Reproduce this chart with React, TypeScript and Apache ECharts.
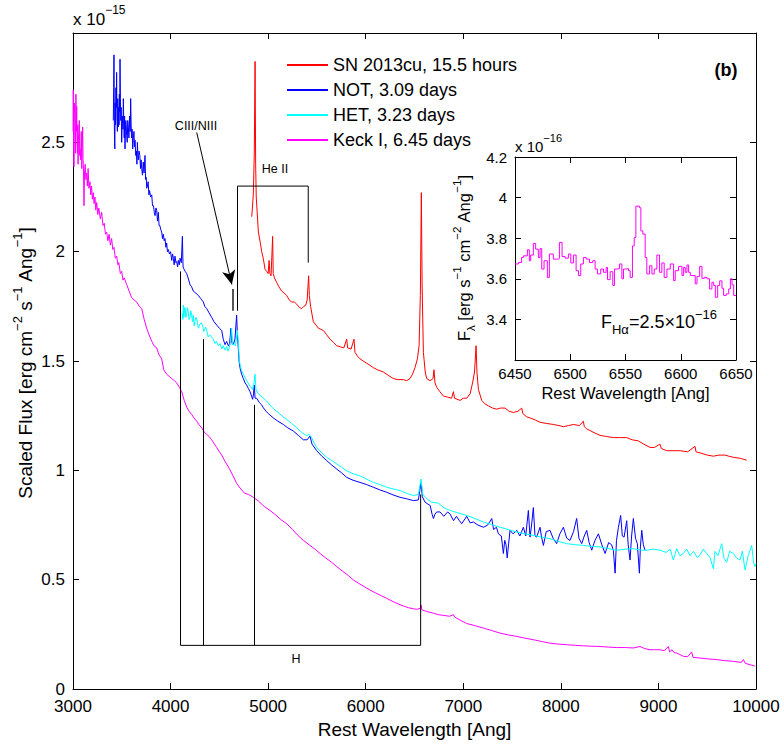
import React, { useEffect, useRef } from 'react';
import * as echarts from 'echarts';

// ---------- Main panel spectra (wavelength in Ang, flux in 1e-15 erg/s/cm2/Ang) ----------
const redWave = [4832,4848,4858,4866,4872,4878,4900,4920,4934,4950,4968,4985,5000,5010,5018,5030,5046,5052,5065,5087,5110,5139,5165,5190,5215,5242,5270,5293,5320,5344,5365,5385,5400,5415,5422,5435,5463,5490,5515,5540,5566,5600,5634,5670,5703,5740,5775,5805,5815,5850,5880,5890,5920,5942,5975,6010,6045,6078,6120,6181,6230,6283,6330,6386,6420,6454,6480,6505,6530,6547,6560,6570,6578,6591,6610,6625,6660,6690,6700,6710,6728,6760,6796,6840,6880,6899,6910,6967,7000,7035,7070,7095,7115,7131,7140,7155,7189,7220,7257,7300,7343,7380,7428,7470,7513,7560,7599,7610,7650,7684,7740,7787,7850,7923,7980,8026,8080,8128,8190,8231,8240,8265,8330,8402,8470,8538,8600,8675,8730,8794,8850,8914,8960,9016,9030,9085,9150,9222,9300,9375,9385,9427,9500,9563,9620,9683,9720,9768,9840,9905];
const redFlux = [2.16,2.26,2.45,2.87,2.40,2.25,2.09,2.04,2.00,1.97,1.92,1.91,1.90,1.96,1.90,1.89,2.07,1.90,1.88,1.86,1.84,1.82,1.81,1.80,1.78,1.77,1.77,1.76,1.745,1.74,1.75,1.755,1.78,1.89,1.80,1.75,1.68,1.665,1.65,1.645,1.64,1.62,1.60,1.585,1.57,1.565,1.56,1.60,1.56,1.555,1.60,1.54,1.52,1.51,1.50,1.49,1.48,1.47,1.46,1.45,1.435,1.42,1.415,1.415,1.41,1.42,1.44,1.47,1.51,1.57,1.80,2.27,1.85,1.54,1.45,1.42,1.41,1.42,1.46,1.40,1.38,1.36,1.34,1.335,1.33,1.36,1.33,1.32,1.33,1.33,1.35,1.40,1.45,1.57,1.45,1.37,1.32,1.305,1.295,1.285,1.28,1.285,1.285,1.27,1.265,1.27,1.285,1.26,1.245,1.24,1.23,1.22,1.215,1.21,1.205,1.20,1.205,1.21,1.205,1.225,1.20,1.19,1.175,1.16,1.155,1.15,1.15,1.15,1.14,1.135,1.12,1.105,1.105,1.12,1.10,1.09,1.09,1.09,1.085,1.11,1.085,1.08,1.07,1.065,1.07,1.07,1.065,1.06,1.055,1.047];

const blueWave = [3413,3417,3420,3423,3426,3429,3432,3436,3440,3444,3447,3451,3455,3459,3462,3465,3469,3472,3475,3479,3482,3486,3490,3494,3499,3503,3508,3512,3516,3520,3525,3529,3533,3537,3541,3545,3550,3556,3561,3567,3573,3580,3586,3591,3596,3600,3606,3612,3618,3625,3630,3636,3643,3650,3655,3660,3665,3670,3677,3685,3692,3698,3704,3712,3720,3728,3738,3744,3750,3756,3762,3770,3778,3785,3795,3807,3815,3825,3833,3841,3850,3858,3866,3875,3882,3890,3900,3909,3917,3925,3935,3943,3952,3960,3968,3977,3988,4000,4012,4020,4029,4037,4045,4055,4063,4072,4080,4090,4097,4110,4121,4128,4138,4150,4165,4180,4199,4215,4233,4260,4285,4310,4336,4350,4370,4395,4421,4445,4472,4500,4524,4540,4558,4575,4592,4605,4619,4630,4643,4660,4677,4685,4694,4702,4711,4728,4746,4763,4780,4797,4814,4830,4841,4850,4858,4866,4882,4910,4933,4951,4980,5001,5053,5100,5156,5200,5258,5310,5361,5400,5429,5450,5498,5550,5600,5650,5703,5750,5805,5870,5942,6010,6078,6150,6215,6280,6352,6420,6488,6540,6567,6580,6608,6640,6660,6680,6694,6710,6728,6762,6800,6840,6865,6900,6930,6960,6984,7035,7070,7104,7150,7207,7250,7292,7310,7340,7360,7390,7411,7425,7438,7450,7479,7510,7548,7580,7616,7640,7667,7684,7700,7718,7735,7752,7787,7800,7821,7850,7889,7920,7957,7990,8026,8060,8094,8130,8162,8185,8214,8240,8265,8290,8316,8350,8385,8420,8453,8490,8520,8538,8556,8570,8590,8613,8630,8648,8675,8690,8709,8725,8743,8765,8784,8805,8815,8829,8845,8863];
const blueFlux = [2.60,2.75,2.90,2.62,2.50,2.47,2.68,2.58,2.75,2.66,2.82,2.60,2.55,2.70,2.62,2.57,2.66,2.58,2.72,2.64,2.88,2.70,2.60,2.66,2.50,2.58,2.62,2.56,2.70,2.60,2.52,2.62,2.47,2.55,2.60,2.58,2.53,2.50,2.60,2.57,2.52,2.62,2.55,2.70,2.58,2.52,2.56,2.47,2.52,2.55,2.48,2.51,2.44,2.46,2.40,2.50,2.44,2.42,2.46,2.44,2.38,2.42,2.38,2.35,2.41,2.36,2.44,2.33,2.34,2.29,2.30,2.32,2.26,2.28,2.25,2.26,2.21,2.21,2.18,2.165,2.20,2.19,2.14,2.18,2.12,2.12,2.10,2.09,2.06,2.08,2.05,2.06,2.02,2.04,2.00,2.01,1.99,2.00,1.96,1.99,1.97,1.94,1.98,1.95,1.955,1.93,1.96,1.94,1.97,1.95,2.07,1.93,1.92,1.91,1.90,1.88,1.85,1.84,1.82,1.81,1.80,1.785,1.77,1.75,1.74,1.72,1.70,1.68,1.665,1.65,1.64,1.60,1.575,1.59,1.57,1.58,1.65,1.58,1.575,1.60,1.71,1.62,1.56,1.50,1.47,1.44,1.42,1.40,1.39,1.375,1.36,1.34,1.325,1.35,1.39,1.33,1.33,1.31,1.30,1.286,1.27,1.26,1.24,1.225,1.21,1.195,1.18,1.16,1.14,1.14,1.157,1.12,1.09,1.065,1.045,1.025,1.006,0.99,0.968,0.955,0.945,0.935,0.923,0.91,0.90,0.888,0.877,0.87,0.862,0.865,0.945,0.88,0.855,0.845,0.84,0.80,0.78,0.80,0.81,0.81,0.79,0.81,0.80,0.77,0.79,0.77,0.756,0.79,0.76,0.764,0.75,0.74,0.75,0.78,0.73,0.74,0.71,0.70,0.62,0.68,0.66,0.60,0.726,0.71,0.726,0.70,0.74,0.70,0.817,0.695,0.75,0.83,0.70,0.695,0.74,0.70,0.657,0.72,0.726,0.69,0.665,0.71,0.74,0.69,0.68,0.72,0.78,0.69,0.665,0.70,0.726,0.67,0.635,0.68,0.71,0.66,0.62,0.67,0.66,0.635,0.53,0.68,0.74,0.794,0.70,0.695,0.77,0.66,0.59,0.70,0.78,0.69,0.665,0.53,0.65,0.726,0.66,0.635];

const cyanWave = [4120,4126,4131,4136,4140,4145,4150,4157,4165,4172,4180,4190,4200,4207,4215,4224,4233,4242,4250,4260,4270,4285,4302,4315,4330,4340,4350,4360,4370,4385,4400,4420,4438,4455,4470,4490,4507,4525,4540,4558,4575,4590,4600,4612,4626,4636,4650,4665,4685,4695,4705,4725,4746,4780,4814,4840,4855,4866,4875,4900,4940,4985,5035,5088,5140,5190,5240,5293,5340,5395,5420,5446,5470,5498,5550,5600,5650,5703,5750,5805,5870,5942,6010,6078,6150,6215,6280,6352,6420,6488,6540,6567,6585,6608,6640,6677,6745,6800,6865,6950,7035,7120,7207,7290,7377,7460,7548,7630,7718,7800,7889,7970,8060,8150,8231,8320,8402,8490,8572,8660,8743,8830,8880,8950,9016,9080,9120,9153,9187,9220,9255,9290,9324,9360,9400,9427,9460,9495,9530,9563,9580,9610,9649,9670,9700,9730,9768,9800,9836,9860,9888,9920,9956,9975,9990,10000];
const cyanFlux = [1.72,1.69,1.756,1.70,1.70,1.745,1.74,1.70,1.71,1.745,1.73,1.69,1.70,1.73,1.715,1.68,1.71,1.66,1.68,1.70,1.69,1.65,1.67,1.675,1.66,1.635,1.645,1.655,1.64,1.61,1.62,1.61,1.60,1.58,1.59,1.57,1.58,1.555,1.57,1.55,1.567,1.545,1.56,1.58,1.65,1.575,1.576,1.57,1.64,1.58,1.50,1.46,1.44,1.41,1.385,1.37,1.40,1.44,1.37,1.35,1.335,1.317,1.29,1.27,1.25,1.233,1.215,1.195,1.175,1.158,1.165,1.15,1.125,1.105,1.08,1.06,1.045,1.03,1.015,0.998,0.985,0.975,0.96,0.945,0.935,0.923,0.915,0.908,0.895,0.885,0.89,0.96,0.89,0.88,0.865,0.855,0.85,0.83,0.817,0.805,0.794,0.78,0.764,0.752,0.74,0.73,0.718,0.71,0.703,0.695,0.688,0.676,0.665,0.66,0.657,0.652,0.65,0.642,0.635,0.64,0.642,0.635,0.635,0.64,0.635,0.625,0.64,0.59,0.642,0.61,0.62,0.64,0.61,0.63,0.60,0.615,0.64,0.62,0.60,0.55,0.63,0.61,0.665,0.60,0.58,0.63,0.62,0.60,0.59,0.63,0.545,0.61,0.657,0.58,0.56,0.575];

const magentaWave = [3001,3003,3006,3010,3013,3017,3020,3024,3027,3030,3034,3038,3041,3045,3049,3052,3055,3060,3065,3068,3072,3078,3085,3090,3095,3099,3103,3106,3110,3113,3118,3125,3132,3140,3147,3155,3163,3174,3182,3190,3199,3208,3216,3225,3234,3243,3254,3265,3280,3294,3307,3320,3333,3345,3358,3370,3383,3396,3408,3420,3434,3448,3460,3470,3485,3499,3512,3525,3550,3575,3601,3625,3653,3680,3704,3730,3755,3780,3807,3830,3858,3880,3909,3930,3960,3985,4011,4040,4063,4090,4114,4140,4165,4190,4216,4240,4268,4290,4319,4345,4370,4395,4421,4450,4472,4500,4524,4560,4600,4640,4678,4720,4760,4800,4848,4900,4960,5019,5080,5130,5190,5250,5300,5361,5420,5480,5532,5590,5650,5703,5760,5820,5873,5930,5990,6044,6100,6160,6215,6280,6340,6386,6440,6488,6530,6560,6567,6575,6625,6694,6745,6800,6860,6899,6910,6970,7035,7120,7207,7290,7377,7460,7548,7630,7718,7800,7889,7970,8060,8150,8231,8320,8402,8490,8572,8660,8743,8812,8860,8914,8960,9016,9060,9102,9115,9140,9160,9187,9220,9255,9300,9340,9355,9427,9510,9598,9680,9768,9850,9870,9890,9950,9990];
const magentaFlux = [2.55,2.74,2.50,2.39,2.62,2.68,2.60,2.45,2.58,2.72,2.55,2.665,2.50,2.45,2.58,2.40,2.51,2.55,2.60,2.44,2.47,2.42,2.55,2.38,2.48,2.57,2.42,2.40,2.30,2.21,2.36,2.40,2.33,2.36,2.30,2.38,2.29,2.32,2.26,2.30,2.24,2.27,2.22,2.25,2.19,2.225,2.17,2.20,2.15,2.18,2.12,2.13,2.08,2.09,2.05,2.08,2.03,2.06,2.01,2.02,1.97,1.98,1.94,1.95,1.90,1.91,1.87,1.88,1.85,1.82,1.79,1.78,1.77,1.75,1.74,1.69,1.65,1.62,1.59,1.57,1.56,1.53,1.51,1.46,1.44,1.43,1.42,1.41,1.40,1.38,1.36,1.32,1.29,1.27,1.256,1.24,1.225,1.21,1.195,1.175,1.165,1.155,1.14,1.12,1.105,1.085,1.07,1.04,1.01,0.975,0.94,0.915,0.895,0.89,0.877,0.86,0.835,0.817,0.795,0.775,0.756,0.73,0.705,0.68,0.66,0.64,0.62,0.60,0.58,0.56,0.54,0.52,0.499,0.483,0.467,0.453,0.44,0.427,0.415,0.40,0.388,0.38,0.372,0.367,0.365,0.37,0.385,0.362,0.355,0.347,0.34,0.337,0.333,0.34,0.33,0.315,0.30,0.29,0.279,0.268,0.256,0.248,0.241,0.233,0.226,0.218,0.21,0.206,0.203,0.20,0.198,0.196,0.195,0.192,0.19,0.19,0.188,0.195,0.185,0.18,0.18,0.18,0.175,0.195,0.17,0.18,0.167,0.165,0.158,0.15,0.148,0.17,0.145,0.142,0.138,0.135,0.13,0.127,0.122,0.135,0.118,0.11,0.105];

// ---------- Inset (Keck I around H-alpha), flux in 1e-16, bin left edges ----------
const insetWave = [6450.0,6453.0,6456.0,6457.6,6461.2,6463.0,6464.2,6466.6,6468.7,6471.1,6472.7,6474.2,6476.3,6479.3,6481.1,6484.7,6489.3,6490.2,6492.6,6495.3,6498.3,6500.5,6502.9,6505.3,6507.4,6509.5,6511.9,6514.4,6517.4,6520.4,6522.5,6524.6,6527.6,6530.1,6532.5,6533.7,6536.1,6538.5,6540.0,6542.1,6544.6,6546.7,6548.2,6550.6,6552.7,6554.2,6556.3,6557.9,6559.4,6562.7,6563.9,6565.7,6567.8,6569.3,6571.8,6573.9,6576.0,6578.4,6580.8,6582.9,6585.0,6587.5,6590.5,6593.5,6595.0,6598.0,6601.1,6602.6,6604.1,6605.6,6607.1,6608.6,6613.1,6614.7,6617.1,6619.2,6621.3,6623.7,6626.1,6628.2,6629.8,6631.3,6633.4,6635.2,6637.3,6638.8,6641.2,6643.4,6644.9,6646.4,6647.9,6650.0];
const insetFlux = [3.673,3.68,3.705,3.713,3.743,3.689,3.717,3.774,3.746,3.705,3.749,3.648,3.689,3.607,3.722,3.697,3.70,3.779,3.71,3.702,3.722,3.678,3.717,3.64,3.616,3.673,3.705,3.697,3.68,3.689,3.648,3.624,3.648,3.632,3.656,3.596,3.635,3.567,3.648,3.65,3.673,3.60,3.648,3.65,3.64,3.607,3.762,3.803,3.958,3.95,3.836,3.82,3.705,3.624,3.664,3.624,3.648,3.717,3.632,3.678,3.607,3.648,3.673,3.591,3.64,3.661,3.616,3.656,3.632,3.668,3.632,3.616,3.575,3.612,3.661,3.602,3.607,3.60,3.55,3.583,3.567,3.509,3.567,3.59,3.553,3.518,3.526,3.55,3.60,3.57,3.518,3.518];

// ---------- Annotations (data units) ----------
const hBracket = [[4102, 1.91], [4102, 0.2], [6563, 0.2], [6563, 0.89]];
const hInnerLines = [[4340, 0.2, 1.60], [4861, 0.2, 1.30]];
const heBracket = [[4686, 1.73], [4686, 2.30], [5411, 2.30], [5411, 1.95]];
const arrowFrom = [4268, 2.545];
const arrowTo = [4628, 1.85];
const ciiiMark = [4640, 1.83, 1.73];
const labelTexts = [
  { name: 'He II', coord: [5070, 2.377] },
  { name: 'CIII/NIII', coord: [4261, 2.577] },
  { name: 'H', coord: [5286, 0.136] },
];

const legendNames = ['SN 2013cu, 15.5 hours', 'NOT, 3.09 days', 'HET, 3.23 days', 'Keck I, 6.45 days'];
const colors = ['#ff0000', '#0000ff', '#00ffff', '#ff00ff'];

const FONT = '"Liberation Sans", Arial, Helvetica, sans-serif';
const zip = (w: number[], f: number[]) => w.map((x, i) => [x, f[i]]);
const plain = (v: number) => String(Math.round(v * 1000) / 1000);

const boxAxis = (extra: any) => ({
  type: 'value',
  axisLine: { show: true, onZero: false, lineStyle: { color: '#000', width: 1 } },
  axisTick: { show: true, inside: true, length: 6, lineStyle: { color: '#000', width: 1 } },
  splitLine: { show: false },
  ...extra,
});

function buildOption(): any {
  const specSeries = [
    [redWave, redFlux],
    [blueWave, blueFlux],
    [cyanWave, cyanFlux],
    [magentaWave, magentaFlux],
  ].map(([w, f], i) => ({
    name: legendNames[i],
    type: 'line',
    xAxisIndex: 0,
    yAxisIndex: 0,
    data: zip(w as number[], f as number[]),
    showSymbol: false,
    symbol: 'none',
    color: colors[i],
    lineStyle: { color: colors[i], width: 1 },
    silent: true,
    z: 2,
  }));

  const blackLine = { color: '#000', width: 1, type: 'solid' };

  return {
    animation: false,
    backgroundColor: '#fff',
    textStyle: { fontFamily: FONT, color: '#000' },
    grid: [
      { left: 73, top: 33, width: 683, height: 660 },
      { left: 515, top: 157, width: 221, height: 203, show: true, backgroundColor: '#fff', borderWidth: 0, z: 5 },
    ],
    legend: {
      data: legendNames.map((n, i) => ({ name: n, itemStyle: { color: colors[i] } })),
      orient: 'vertical',
      left: 282,
      top: 50,
      itemWidth: 41,
      itemHeight: 2,
      itemGap: 5,
      icon: 'rect',
      textStyle: { fontSize: 18, color: '#000', fontFamily: FONT, lineHeight: 20 },
      selectedMode: false,
    },
    xAxis: [
      boxAxis({
        gridIndex: 0, min: 3000, max: 10000, interval: 1000, position: 'bottom',
        axisLabel: { fontSize: 17, color: '#000', margin: 9, lineHeight: 17, fontFamily: FONT, formatter: plain },
        name: 'Rest Wavelength [Ang]', nameLocation: 'middle', nameGap: 23,
        nameTextStyle: { fontSize: 19, color: '#000', fontFamily: FONT },
      }),
      boxAxis({ gridIndex: 0, min: 3000, max: 10000, interval: 1000, position: 'top', axisLabel: { show: false } }),
      boxAxis({
        gridIndex: 1, min: 6450, max: 6650, interval: 50, position: 'bottom', z: 6,
        axisLabel: { fontSize: 15, color: '#000', margin: 6, fontFamily: FONT, formatter: plain },
        name: 'Rest Wavelength [Ang]', nameLocation: 'middle', nameGap: 24,
        nameTextStyle: { fontSize: 16.5, color: '#000', fontFamily: FONT },
      }),
      boxAxis({ gridIndex: 1, min: 6450, max: 6650, interval: 50, position: 'top', axisLabel: { show: false }, z: 6 }),
    ],
    yAxis: [
      boxAxis({
        gridIndex: 0, min: 0, max: 3, interval: 0.5, position: 'left',
        axisLabel: { fontSize: 17, color: '#000', margin: 8, lineHeight: 13, showMaxLabel: false, fontFamily: FONT, formatter: plain },
      }),
      boxAxis({ gridIndex: 0, min: 0, max: 3, interval: 0.5, position: 'right', axisLabel: { show: false } }),
      boxAxis({
        gridIndex: 1, min: 3.2, max: 4.2, interval: 0.2, position: 'left', z: 6,
        axisLabel: { fontSize: 15, color: '#000', margin: 8, showMinLabel: false, fontFamily: FONT, formatter: plain },
      }),
      boxAxis({ gridIndex: 1, min: 3.2, max: 4.2, interval: 0.2, position: 'right', axisLabel: { show: false }, z: 6 }),
    ],
    series: [
      ...specSeries,
      {
        name: 'inset',
        type: 'line',
        xAxisIndex: 2,
        yAxisIndex: 2,
        step: 'end',
        data: zip(insetWave, insetFlux),
        showSymbol: false,
        symbol: 'none',
        color: '#ff00ff',
        lineStyle: { color: '#ff00ff', width: 1 },
        silent: true,
        z: 7,
      },
      {
        name: 'H',
        type: 'line',
        xAxisIndex: 0,
        yAxisIndex: 0,
        data: hBracket,
        showSymbol: false,
        symbol: 'none',
        color: '#000',
        lineStyle: blackLine,
        silent: true,
        z: 3,
        markLine: {
          silent: true,
          symbol: ['none', 'none'],
          label: { show: false },
          lineStyle: blackLine,
          emphasis: { disabled: true },
          data: [
            ...hInnerLines.map(([x, y0, y1]) => [{ coord: [x, y0] }, { coord: [x, y1] }]),
            [
              { coord: [ciiiMark[0], ciiiMark[1]], lineStyle: { color: '#555', width: 2 } },
              { coord: [ciiiMark[0], ciiiMark[2]] },
            ],
            [
              { coord: arrowFrom, symbol: 'none' },
              { coord: arrowTo, symbol: 'arrow', symbolSize: [10, 14] },
            ],
          ],
        },
        markPoint: {
          silent: true,
          symbol: 'rect',
          symbolSize: 1,
          itemStyle: { color: 'rgba(0,0,0,0)' },
          label: { show: true, position: 'inside', formatter: '{b}', color: '#000', fontSize: 12.5, fontFamily: FONT, textBorderWidth: 0 },
          emphasis: { disabled: true },
          data: labelTexts,
        },
      },
      {
        name: 'HeII',
        type: 'line',
        xAxisIndex: 0,
        yAxisIndex: 0,
        data: heBracket,
        showSymbol: false,
        symbol: 'none',
        color: '#000',
        lineStyle: blackLine,
        silent: true,
        z: 3,
      },
    ],
    graphic: [
      {
        type: 'text', left: 73, top: 4, silent: true,
        style: {
          text: '{a|x 10}{s|−15}',
          rich: {
            a: { fontSize: 17, fontFamily: FONT, fill: '#000', lineHeight: 24, verticalAlign: 'bottom' },
            s: { fontSize: 12, fontFamily: FONT, fill: '#000', lineHeight: 14, verticalAlign: 'top' },
          },
        },
      },
      {
        type: 'text', x: 726, y: 70, silent: true,
        style: { text: '(b)', fontSize: 18, fontWeight: 'bold', fontFamily: FONT, fill: '#000', align: 'center', verticalAlign: 'middle' },
      },
      {
        type: 'text', x: 25, y: 363, rotation: Math.PI / 2, silent: true,
        style: {
          text: '{a|Scaled Flux [erg cm}{s|−2}{a| s}{s|−1}{a| Ang}{s|−1}{a|]}',
          align: 'center', verticalAlign: 'middle',
          rich: {
            a: { fontSize: 19, fontFamily: FONT, fill: '#000', lineHeight: 28 },
            s: { fontSize: 13, fontFamily: FONT, fill: '#000', lineHeight: 14, verticalAlign: 'top' },
          },
        },
      },
      {
        type: 'text', left: 515, top: 132, silent: true, z: 10,
        style: {
          text: '{a|x 10}{s|−16}',
          rich: {
            a: { fontSize: 15, fontFamily: FONT, fill: '#000', lineHeight: 22, verticalAlign: 'bottom' },
            s: { fontSize: 11, fontFamily: FONT, fill: '#000', lineHeight: 12, verticalAlign: 'top' },
          },
        },
      },
      {
        type: 'text', x: 464, y: 258, rotation: Math.PI / 2, silent: true, z: 10,
        style: {
          text: '{a|F}{b|λ}{a| [erg s}{s|−1}{a| cm}{s|−2}{a| Ang}{s|−1}{a|]}',
          align: 'center', verticalAlign: 'middle',
          rich: {
            a: { fontSize: 16.5, fontFamily: FONT, fill: '#000', lineHeight: 26 },
            b: { fontSize: 11.5, fontFamily: FONT, fill: '#000', lineHeight: 12, verticalAlign: 'bottom' },
            s: { fontSize: 11.5, fontFamily: FONT, fill: '#000', lineHeight: 12, verticalAlign: 'top' },
          },
        },
      },
      {
        type: 'text', left: 601, top: 308, silent: true, z: 10,
        style: {
          text: '{a|F}{b|Hα}{a|=2.5×10}{s|−16}',
          rich: {
            a: { fontSize: 18, fontFamily: FONT, fill: '#000', lineHeight: 28 },
            b: { fontSize: 13, fontFamily: FONT, fill: '#000', lineHeight: 14, verticalAlign: 'bottom' },
            s: { fontSize: 13, fontFamily: FONT, fill: '#000', lineHeight: 14, verticalAlign: 'top' },
          },
        },
      },
    ],
  };
}

export default function App() {
  const ref = useRef<HTMLDivElement>(null);
  useEffect(() => {
    if (!ref.current) return;
    const chart = echarts.init(ref.current, null, { renderer: 'svg' });
    chart.setOption(buildOption());
    return () => chart.dispose();
  }, []);
  return (
    <div
      ref={ref}
      style={{ position: 'fixed', left: 0, top: 0, width: 784, height: 744, background: '#fff' }}
    />
  );
}
